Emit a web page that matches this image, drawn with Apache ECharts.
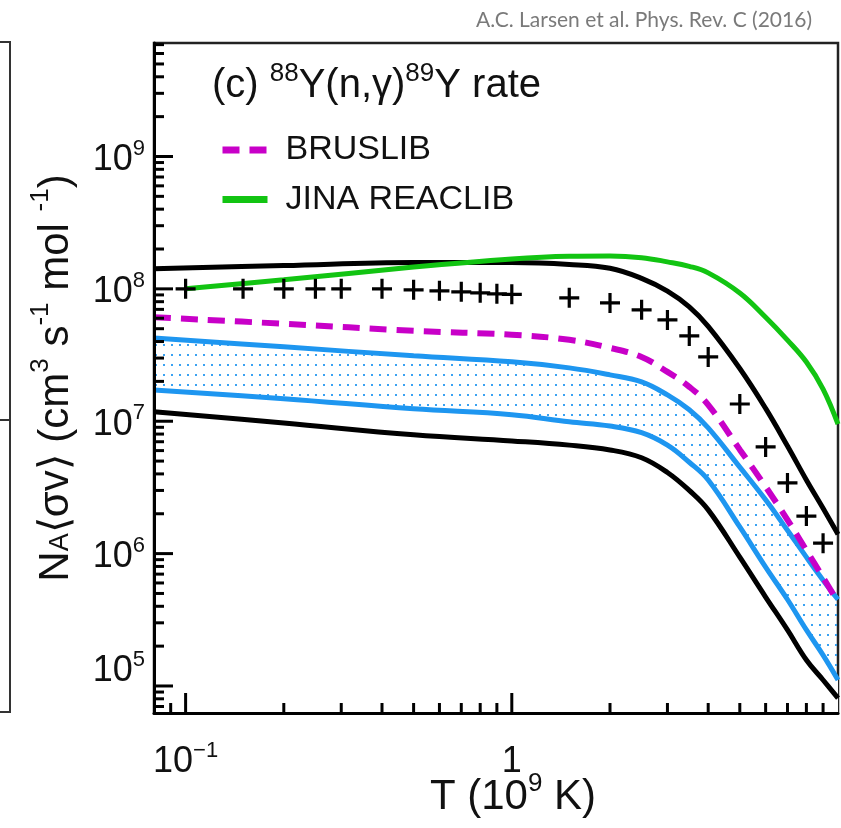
<!DOCTYPE html>
<html><head><meta charset="utf-8">
<script src="https://cdn.jsdelivr.net/npm/echarts@6/dist/echarts.min.js"></script>
<style>html,body{margin:0;padding:0;background:#fff}#c{width:841px;height:828px}</style>
</head><body><div id="c"></div>
<script>
// ---- data ----
const temps = [0.08, 0.2, 0.5, 1, 1.5, 2, 2.5, 3, 3.5, 4, 5, 6, 7, 8, 9, 10];
const blackUpper = [1.42e8, 1.5e8, 1.58e8, 1.58e8, 1.53e8, 1.43e8, 1.2e8, 9.6e7, 7.3e7, 5.2e7, 2.5e7, 1.25e7, 6.5e6, 3.6e6, 2.2e6, 1.4e6];
const blackLower = [1.18e7, 9.7e6, 7.9e6, 7.1e6, 6.6e6, 6.07e6, 5.3e6, 4.1e6, 3.0e6, 2.14e6, 9.4e5, 4.7e5, 2.65e5, 1.57e5, 1.11e5, 8.1e4];
const blueUpper = [4.26e7, 3.65e7, 3.12e7, 2.81e7, 2.53e7, 2.24e7, 1.98e7, 1.58e7, 1.22e7, 8.9e6, 4.5e6, 2.55e6, 1.5e6, 9.4e5, 6.3e5, 4.5e5];
const blueLower = [1.72e7, 1.48e7, 1.24e7, 1.12e7, 9.9e6, 9.2e6, 8.2e6, 6.6e6, 4.9e6, 3.6e6, 1.59e6, 7.9e5, 4.5e5, 2.65e5, 1.71e5, 1.11e5];
const bruslib = [6.1e7, 5.45e7, 4.82e7, 4.5e7, 4.12e7, 3.58e7, 3.06e7, 2.36e7, 1.82e7, 1.33e7, 6.1e6, 3.2e6, 1.8e6, 1.06e6, 6.6e5, 4.3e5];
const jinaT = [0.1, 0.2, 0.5, 1, 1.5, 2, 2.5, 3, 3.5, 4, 5, 6, 7, 8, 9, 10];
const jina = [1.0e8, 1.17e8, 1.46e8, 1.68e8, 1.76e8, 1.77e8, 1.72e8, 1.6e8, 1.48e8, 1.32e8, 9.3e7, 6.1e7, 4.1e7, 2.8e7, 1.75e7, 9.5e6];
const crossT = [0.1, 0.15, 0.2, 0.25, 0.3, 0.4, 0.5, 0.6, 0.7, 0.8, 0.9, 1, 1.5, 2, 2.5, 3, 3.5, 4, 5, 6, 7, 8, 9];
const crossV = [1.0e8, 1.0e8, 1.0e8, 1.0e8, 1.0e8, 1.0e8, 9.83e7, 9.66e7, 9.49e7, 9.33e7, 9.17e7, 9.1e7, 8.55e7, 7.83e7, 6.94e7, 5.83e7, 4.41e7, 3.06e7, 1.35e7, 6.4e6, 3.42e6, 1.92e6, 1.2e6];
const xMin = 0.08, xMax = 10, yMin = 6.25e4, yMax = 7.2e9;
const xMajorTicks = [0.1, 1];
const xMinorTicks = [0.09, 0.2, 0.3, 0.4, 0.5, 0.6, 0.7, 0.8, 0.9, 2, 3, 4, 5, 6, 7, 8, 9];
const yMajorTicks = [1e5, 1e6, 1e7, 1e8, 1e9];
const yMinorTicks = [];
for (let d = 4; d <= 9; d++) for (let m = 2; m <= 9; m++) { const v = m * Math.pow(10, d); if (v > yMin && v < yMax) yMinorTicks.push(v); }

// ---- helpers ----
const FF = 'Liberation Sans, Arial, Helvetica, sans-serif';
const pair = (xs, ys) => xs.map((x, i) => [x, ys[i]]);

function dotPattern() {
  const c = document.createElement('canvas');
  c.width = 8; c.height = 10;
  const g = c.getContext('2d');
  g.fillStyle = '#3aa2f2';
  g.fillRect(3, 4, 2, 2);
  return c;
}

const tickRich = {
  b: { fontSize: 36, fontFamily: FF, color: '#111', lineHeight: 38, padding: [7, 0, 0, 0] },
  s: { fontSize: 22, fontFamily: FF, color: '#111', lineHeight: 22, verticalAlign: 'top' },
  g: { fontSize: 10, lineHeight: 36 }
};
const titleRich = {
  b: { fontSize: 40, fontFamily: FF, fontWeight: 'normal', color: '#111', lineHeight: 42, padding: [8, 0, 0, 0] },
  s: { fontSize: 26, fontFamily: FF, fontWeight: 'normal', color: '#111', lineHeight: 26, verticalAlign: 'top' }
};

function yTickRender(params, api) {
  const p = api.coord([api.value(0), api.value(1)]);
  const len = api.value(2);
  return { type: 'line', shape: { x1: p[0], y1: p[1], x2: p[0] + len, y2: p[1] }, style: { stroke: '#000', lineWidth: 3 } };
}
function xTickRender(params, api) {
  const p = api.coord([api.value(0), api.value(1)]);
  const len = api.value(2);
  return { type: 'line', shape: { x1: p[0], y1: p[1], x2: p[0], y2: p[1] - len }, style: { stroke: '#000', lineWidth: 3 } };
}

const chart = echarts.init(document.getElementById('c'), null, { renderer: 'canvas' });
const lineBase = { type: 'line', showSymbol: false, symbol: 'none', smooth: 0.4, animation: false, silent: true };

chart.setOption({
  animation: false,
  backgroundColor: '#fff',
  title: [
    {
      text: '{b|(c) }{s|88}{b|Y(n,γ)}{s|89}{b|Y rate}',
      left: 212, top: 61, padding: 0,
      textStyle: { fontWeight: 'normal', rich: titleRich }
    },
    {
      text: 'A.C. Larsen et al. Phys. Rev. C (2016)',
      right: 29, top: 10, padding: 0,
      textStyle: { fontFamily: 'Lato, Open Sans, sans-serif', fontSize: 21, fontWeight: 'normal', color: '#7a7a7a' }
    }
  ],
  legend: {
    left: 219, top: 132, orient: 'vertical', padding: 0,
    itemWidth: 45, itemHeight: 8, itemGap: 13.5,
    selectedMode: false,
    itemStyle: { opacity: 0 },
    lineStyle: { width: 7 },
    textStyle: { fontSize: 34, fontFamily: FF, color: '#111', lineHeight: 36, padding: [0, 0, 0, 13] },
    data: ['BRUSLIB', 'JINA REACLIB']
  },
  grid: { left: 154, right: 3, top: 43, bottom: 115, outerBoundsMode: 'none', containLabel: false,
    show: true, borderColor: '#222', borderWidth: 2.5, backgroundColor: 'transparent' },
  xAxis: {
    type: 'log', logBase: 10, min: xMin, max: xMax, z: 10,
    axisLine: { show: true, lineStyle: { color: '#000', width: 3 } },
    axisTick: { show: false }, minorTick: { show: false }, splitLine: { show: false },
    axisLabel: {
      margin: 27, showMinLabel: false, showMaxLabel: false,
      formatter: v => Math.abs(v - 0.1) < 1e-9 ? '{b|10}{s|−1}' : (Math.abs(v - 1) < 1e-9 ? '{b|1}' : ''),
      rich: tickRich
    },
    name: '{b|T (10}{s|9}{b| K)}', nameLocation: 'middle', nameGap: 58, nameMoveOverlap: false,
    nameTextStyle: { padding: [0, 0, 0, 34], rich: {
      b: { fontSize: 42, fontFamily: FF, color: '#111', lineHeight: 44, padding: [8, 0, 0, 0] },
      s: { fontSize: 26, fontFamily: FF, color: '#111', lineHeight: 26, verticalAlign: 'top' }
    } }
  },
  yAxis: {
    type: 'log', logBase: 10, min: yMin, max: yMax, z: 10,
    axisLine: { show: true, lineStyle: { color: '#000', width: 3 } },
    axisTick: { show: false }, minorTick: { show: false }, splitLine: { show: false },
    axisLabel: {
      margin: 9, showMinLabel: false, showMaxLabel: false,
      formatter: v => {
        const e = Math.round(Math.log10(v));
        if (Math.abs(Math.log10(v) - e) > 1e-6) return '';
        if (e === 5) return '{b|10}{s|5}\n{g| }';
        return '{b|10}{s|' + e + '}';
      },
      rich: tickRich
    },
    name: '{b|N}{sub|A}{b|⟨σv⟩ (cm}{s|3}{b| s}{s|-1}{b| mol }{s|-1}{b|)}',
    nameLocation: 'middle', nameRotate: 90, nameGap: 80, nameMoveOverlap: false,
    nameTextStyle: { rich: {
      b: { fontSize: 42, fontFamily: FF, color: '#111', lineHeight: 46, padding: [10, 0, 0, 0] },
      s: { fontSize: 26, fontFamily: FF, color: '#111', lineHeight: 26, verticalAlign: 'top' },
      sub: { fontSize: 27, fontFamily: FF, color: '#111', lineHeight: 27, verticalAlign: 'bottom' }
    } }
  },
  graphic: [
    { type: 'polyline', shape: { points: [[0, 42], [10, 42], [10, 712], [0, 712]] }, style: { stroke: '#333', lineWidth: 2, fill: null }, silent: true },
    { type: 'line', shape: { x1: 0, y1: 420, x2: 10, y2: 420 }, style: { stroke: '#333', lineWidth: 2 }, silent: true }
  ],
  series: [
    Object.assign({}, lineBase, { name: 'band fill', data: pair(temps, blueUpper), lineStyle: { opacity: 0 },
      areaStyle: { color: { image: dotPattern(), repeat: 'repeat' }, opacity: 1, origin: 'start' }, z: 1 }),
    Object.assign({}, lineBase, { name: 'band mask', data: pair(temps, blueLower), lineStyle: { opacity: 0 },
      areaStyle: { color: '#ffffff', opacity: 1, origin: 'start' }, z: 1 }),
    Object.assign({}, lineBase, { name: 'upper limit', data: pair(temps, blackUpper), lineStyle: { color: '#000', width: 5 }, z: 3 }),
    Object.assign({}, lineBase, { name: 'lower limit', data: pair(temps, blackLower), lineStyle: { color: '#000', width: 5 }, z: 3 }),
    Object.assign({}, lineBase, { name: 'band upper', data: pair(temps, blueUpper), lineStyle: { color: '#1e96f0', width: 5 }, z: 4 }),
    Object.assign({}, lineBase, { name: 'band lower', data: pair(temps, blueLower), lineStyle: { color: '#1e96f0', width: 5 }, z: 4 }),
    Object.assign({}, lineBase, { name: 'BRUSLIB', data: pair(temps, bruslib), color: '#c800c8', lineStyle: { color: '#c800c8', width: 6, type: [17, 10] }, z: 5 }),
    Object.assign({}, lineBase, { name: 'JINA REACLIB', data: pair(jinaT, jina), color: '#12c412', lineStyle: { color: '#12c412', width: 5 }, z: 6 }),
    { type: 'scatter', name: 'crosses', data: pair(crossT, crossV), symbol: 'path://M-1.6,-10H1.6V-1.6H10V1.6H1.6V10H-1.6V1.6H-10V-1.6H-1.6Z',
      symbolSize: 20, itemStyle: { color: '#000', opacity: 1 }, z: 7, silent: true, animation: false },
    { type: 'custom', name: 'yTicks', coordinateSystem: 'cartesian2d', clip: false, silent: true, z: 8,
      data: yMajorTicks.map(v => [xMin, v, 19]).concat(yMinorTicks.map(v => [xMin, v, 10])), renderItem: yTickRender },
    { type: 'custom', name: 'xTicks', coordinateSystem: 'cartesian2d', clip: false, silent: true, z: 8,
      data: xMajorTicks.map(v => [v, yMin, 20]).concat(xMinorTicks.map(v => [v, yMin, 10])), renderItem: xTickRender }
  ]
});
</script></body></html>
